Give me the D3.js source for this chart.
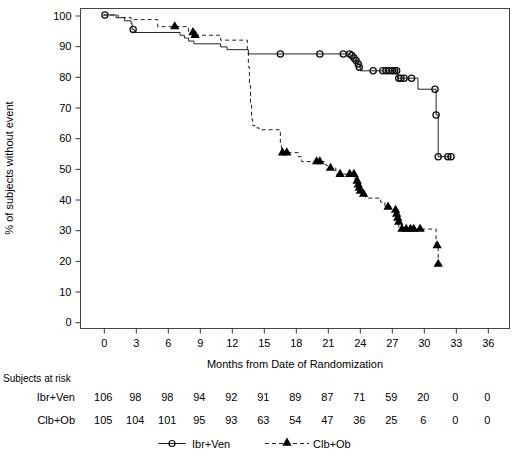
<!DOCTYPE html>
<html>
<head>
<meta charset="utf-8">
<script src="https://cdn.jsdelivr.net/npm/d3@7"></script>
<style>
  body { margin: 0; background: #fff; }
  text { font-family: "Liberation Sans", Arial, sans-serif; fill: #000; }
</style>
</head>
<body>
<svg id="chart" width="514" height="455"></svg>
<script>
// step curves (time in months, % without event)
var ivTimes = [0, 1.2, 2.0, 2.6, 2.7, 2.9, 7.2, 7.6, 8.0, 8.5, 11.0, 11.6, 13.6, 23.2, 23.4, 23.6, 23.8, 24.0, 24.1, 27.6, 29.5, 31.2, 31.4, 32.6];
var ivSurv  = [100, 99.1, 98.1, 97.2, 95.3, 94.3, 93.4, 92.5, 91.5, 90.6, 89.6, 88.7, 87.3, 86.8, 86.0, 85.2, 84.0, 83.0, 81.8, 79.4, 75.8, 67.4, 53.8, 53.8];
var ivCensT = [0.15, 2.8, 16.6, 20.3, 22.5, 23.1, 23.3, 23.5, 23.7, 23.9, 24.0, 25.3, 26.2, 26.5, 26.8, 27.1, 27.3, 27.5, 27.7, 27.9, 28.2, 28.9, 31.1, 31.2, 31.4, 32.3, 32.6];
var ivCensS = [100, 95.3, 87.3, 87.3, 87.3, 87.3, 86.8, 86.0, 85.2, 84.0, 83.0, 81.8, 81.8, 81.8, 81.8, 81.8, 81.8, 81.8, 79.4, 79.4, 79.4, 79.4, 75.8, 67.4, 53.8, 53.8, 53.8];

var coTimes = [0, 1.4, 2.6, 5.1, 8.0, 8.5, 11.0, 13.5, 13.6, 13.7, 13.8, 13.9, 14.0, 14.2, 14.6, 16.6, 16.7, 18.3, 18.6, 20.8, 21.0, 21.8, 23.6, 23.8, 23.9, 24.0, 24.2, 24.6, 26.0, 26.4, 27.3, 27.5, 27.55, 27.6, 27.7, 31.2, 31.4];
var coSurv  = [100, 99.2, 98.5, 96.2, 94.3, 93.4, 91.8, 88.0, 83.0, 77.0, 71.0, 66.0, 64.0, 63.2, 62.6, 57.5, 55.1, 53.8, 52.2, 51.1, 50.1, 48.1, 46.2, 44.8, 43.6, 42.6, 41.6, 40.3, 39.0, 37.4, 36.4, 35.1, 33.8, 32.5, 30.2, 24.8, 18.8];
var coCensT = [6.7, 8.4, 8.6, 16.8, 17.2, 20.0, 20.3, 21.3, 22.2, 23.1, 23.5, 23.8, 23.9, 24.0, 24.1, 24.4, 26.7, 27.4, 27.5, 27.6, 27.7, 28.0, 28.4, 28.8, 29.1, 29.7, 31.3, 31.4];
var coCensS = [96.2, 94.3, 93.4, 55.1, 55.1, 52.2, 52.2, 50.1, 48.1, 48.1, 48.1, 45.9, 44.6, 43.6, 42.6, 41.6, 37.4, 36.4, 35.1, 33.8, 32.5, 30.2, 30.2, 30.2, 30.2, 30.2, 24.8, 18.8];

var xTicks = [0, 3, 6, 9, 12, 15, 18, 21, 24, 27, 30, 33, 36];
var yTicks = [0, 10, 20, 30, 40, 50, 60, 70, 80, 90, 100];
var riskIv = [106, 98, 98, 94, 92, 91, 89, 87, 71, 59, 20, 0, 0];
var riskCo = [105, 104, 101, 95, 93, 63, 54, 47, 36, 25, 6, 0, 0];

var svg = d3.select("#chart");

var x = d3.scaleLinear().domain([0, 36]).range([103.3, 487.3]);
var y = d3.scaleLinear().domain([0, 100]).range([321.7, 15]);

// frame edges (note: "top" is reserved on window)
var fLeft = 80, fRight = 509, fTop = 8, fBottom = 328;

svg.append("rect")
  .attr("x", fLeft + 0.5).attr("y", fTop + 0.5)
  .attr("width", fRight - fLeft).attr("height", fBottom - fTop)
  .attr("fill", "none").attr("stroke", "#444").attr("stroke-width", 1);

// y axis
var yAxis = d3.axisLeft(y).tickValues(yTicks).tickSize(5).tickPadding(4);
var gy = svg.append("g").attr("transform", "translate(" + (fLeft + 0.5) + ",0.5)").call(yAxis);
gy.select(".domain").remove();
gy.selectAll("line").attr("stroke", "#333");
gy.selectAll("text").style("font-size", "11px").style("font-family", "Liberation Sans, Arial, sans-serif");

// x axis
var xAxis = d3.axisBottom(x).tickValues(xTicks).tickSize(5).tickPadding(6);
var gx = svg.append("g").attr("transform", "translate(0.5," + (fBottom + 0.5) + ")").call(xAxis);
gx.select(".domain").remove();
gx.selectAll("line").attr("stroke", "#333");
gx.selectAll("text").style("font-size", "11px").style("font-family", "Liberation Sans, Arial, sans-serif");

svg.append("text")
  .attr("x", 295).attr("y", 368)
  .attr("text-anchor", "middle").style("font-size", "11px")
  .text("Months from Date of Randomization");

svg.append("text")
  .attr("transform", "translate(13,168) rotate(-90)")
  .attr("text-anchor", "middle").style("font-size", "11px")
  .text("% of subjects without event");

// curves
var line = d3.line().curve(d3.curveStepAfter)
  .x(function(d) { return x(d[0]); })
  .y(function(d) { return y(d[1]); });

svg.append("path")
  .datum(d3.zip(ivTimes, ivSurv))
  .attr("d", line)
  .attr("fill", "none").attr("stroke", "#222").attr("stroke-width", 1);

svg.append("path")
  .datum(d3.zip(coTimes, coSurv))
  .attr("d", line)
  .attr("fill", "none").attr("stroke", "#222").attr("stroke-width", 1)
  .attr("stroke-dasharray", "4,3");

var tri = d3.symbol().type(d3.symbolTriangle).size(38);

svg.append("g").selectAll("circle")
  .data(d3.zip(ivCensT, ivCensS))
  .join("circle")
  .attr("cx", function(d) { return x(d[0]); })
  .attr("cy", function(d) { return y(d[1]); })
  .attr("r", 3.1)
  .attr("fill", "none").attr("stroke", "#111").attr("stroke-width", 1.3);

svg.append("g").selectAll("path")
  .data(d3.zip(coCensT, coCensS))
  .join("path")
  .attr("d", tri)
  .attr("transform", function(d) { return "translate(" + x(d[0]) + "," + y(d[1]) + ")"; })
  .attr("fill", "#000");

// subjects at risk table
svg.append("text").attr("x", 3).attr("y", 382).style("font-size", "10px").text("Subjects at risk");

var rows = [["Ibr+Ven", riskIv, 401], ["Clb+Ob", riskCo, 424]];
rows.forEach(function(r) {
  svg.append("text").attr("x", 75).attr("y", r[2]).attr("text-anchor", "end")
    .style("font-size", "11px").text(r[0]);
  svg.append("g").selectAll("text")
    .data(r[1])
    .join("text")
    .attr("x", function(d, i) { return x(xTicks[i]); })
    .attr("y", r[2])
    .attr("text-anchor", "middle")
    .style("font-size", "11px")
    .text(function(d) { return d; });
});

// legend
var lg = svg.append("g");
lg.append("line").attr("x1", 158).attr("x2", 186).attr("y1", 443.5).attr("y2", 443.5)
  .attr("stroke", "#222").attr("stroke-width", 1);
lg.append("circle").attr("cx", 172).attr("cy", 443.5).attr("r", 3)
  .attr("fill", "none").attr("stroke", "#111").attr("stroke-width", 1.2);
lg.append("text").attr("x", 192).attr("y", 447.5).style("font-size", "11px").text("Ibr+Ven");
lg.append("line").attr("x1", 265).attr("x2", 309).attr("y1", 443.5).attr("y2", 443.5)
  .attr("stroke", "#222").attr("stroke-width", 1).attr("stroke-dasharray", "4,3");
lg.append("path").attr("d", tri).attr("transform", "translate(287,443)").attr("fill", "#000");
lg.append("text").attr("x", 313).attr("y", 447.5).style("font-size", "11px").text("Clb+Ob");
</script>
</body>
</html>
